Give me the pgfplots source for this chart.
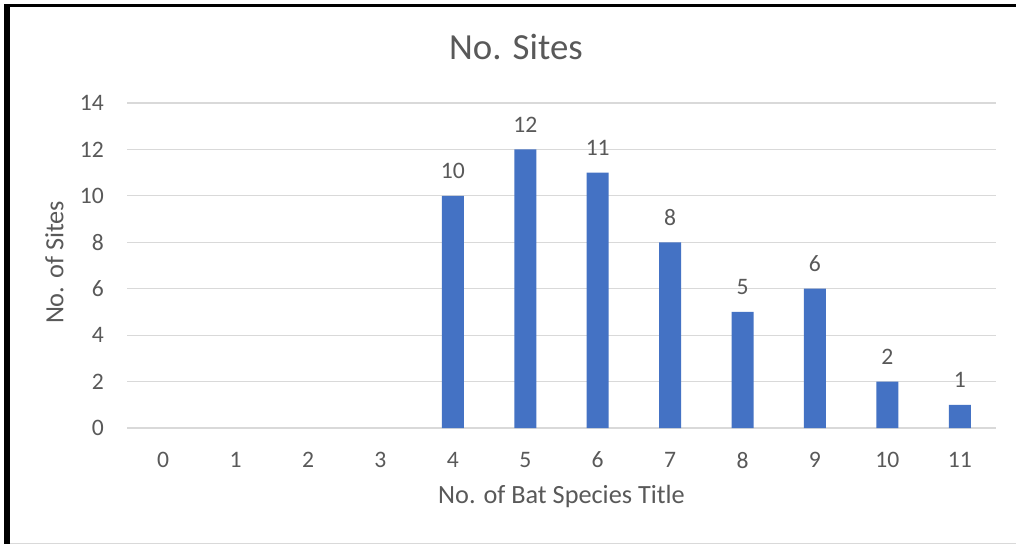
\documentclass[border=0pt]{standalone}
\usepackage{pgfplots}
\pgfplotsset{compat=1.18}
\usepackage{fontspec}
\setmainfont{Carlito}
\definecolor{txt}{HTML}{595959}
\definecolor{gridc}{HTML}{D9D9D9}
\definecolor{barc}{HTML}{4472C4}
\begin{document}
\begin{tikzpicture}
\path[use as bounding box] (0,0) rectangle (762pt,408pt);
\fill[white] (0,0) rectangle (762pt,408pt);
\fill[black] (3pt,0) rectangle (7.5pt,405pt);
\fill[black] (3pt,402.75pt) rectangle (762pt,405pt);
\draw[gridc, line width=0.75pt] (7.5pt,0.6pt) -- (762pt,0.6pt);
\begin{axis}[
  at={(95.25pt,87pt)}, anchor=south west,
  scale only axis, width=651.75pt, height=243.75pt,
  ybar, bar width=16.5pt,
  xmin=-0.5, xmax=11.5, ymin=0, ymax=14,
  xtick={0,...,11}, ytick={0,2,...,14},
  major tick length=0pt,
  axis line style={draw=none},
  ymajorgrids, grid style={draw=gridc, line width=0.9pt},
  /pgf/number format/assume math mode=true,
  ticklabel style={font=\fontsize{17.7}{20}\selectfont, text=txt, inner sep=0pt},
  yticklabel style={anchor=east, xshift=-17.25pt},
  xticklabel style={anchor=north, yshift=-17.8pt},
  xlabel={No. of Bat Species Title},
  ylabel={No. of Sites},
  label style={font=\fontsize{19.7}{22}\selectfont, text=txt, inner sep=0pt},
  xlabel style={at={([yshift=-56.5pt]axis description cs:0.5,0)}, anchor=base},
  ylabel style={at={([xshift=-47.8pt]axis description cs:0,0.5095)}, anchor=base, rotate=0},
  title={No. Sites},
  title style={font=\fontsize{27.6}{30}\selectfont, text=txt, inner sep=0pt,
    at={([yshift=26.3pt]axis description cs:0.4476,1)}, anchor=base},
  nodes near coords,
  nodes near coords style={font=\fontsize{17.7}{20}\selectfont, text=txt, inner sep=0pt, anchor=south, yshift=12.4pt},
]
\addplot[fill=barc, draw=none] coordinates {
  (4,10) (5,12) (6,11) (7,8) (8,5) (9,6) (10,2) (11,1)
};
\end{axis}
\end{tikzpicture}
\end{document}
